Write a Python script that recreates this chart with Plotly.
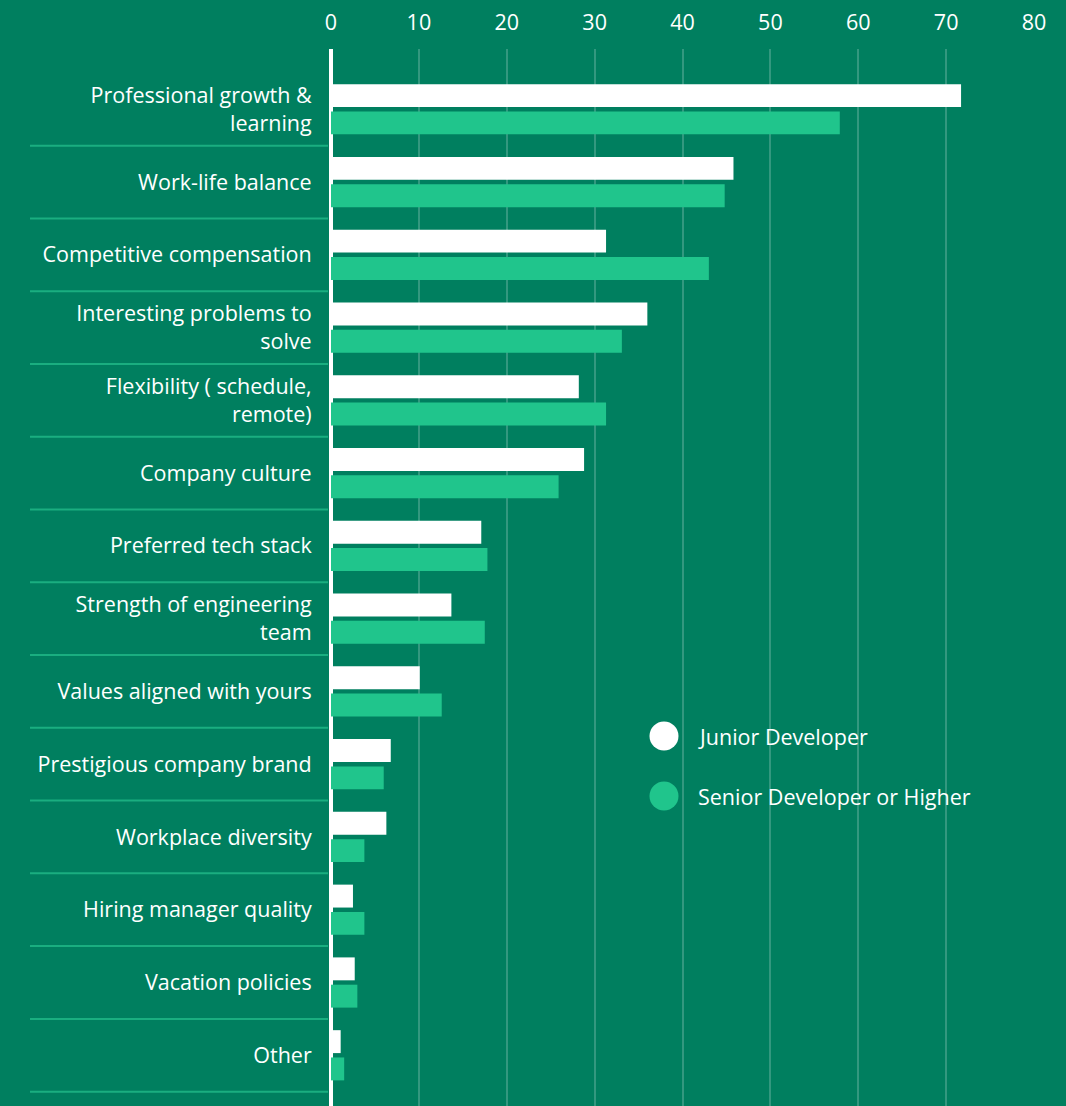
import plotly.graph_objects as go

categories = [
    "Professional growth &<br>learning",
    "Work-life balance",
    "Competitive compensation",
    "Interesting problems to<br>solve",
    "Flexibility ( schedule,<br>remote)",
    "Company culture",
    "Preferred tech stack",
    "Strength of engineering<br>team",
    "Values aligned with yours",
    "Prestigious company brand",
    "Workplace diversity",
    "Hiring manager quality",
    "Vacation policies",
    "Other",
]
series_names = ["Junior Developer", "Senior Developer or Higher"]
junior = [71.7, 45.8, 31.3, 36.0, 28.2, 28.8, 17.1, 13.7, 10.1, 6.8, 6.3, 2.5, 2.7, 1.1]
senior = [57.9, 44.8, 43.0, 33.1, 31.3, 25.9, 17.8, 17.5, 12.6, 6.0, 3.8, 3.8, 3.0, 1.5]
x_ticks = [0, 10, 20, 30, 40, 50, 60, 70, 80]

BG = "#007F5F"
WHITE = "#FFFFFF"
LIGHT = "#20C58C"
SEP = "#1AAE80"
FONT = "Open Sans"
FS = 21.5

W, H = 1066, 1106
ML, MR, MT, MB = 331, 32, 49, 0
PW = W - ML - MR
PH = H - MT - MB

def px_x(px):
    return (px - ML) / PW

def px_y(py):
    return 1 - (py - MT) / PH

fig = go.Figure()
fig.add_trace(go.Bar(y=categories, x=junior, orientation="h", name=series_names[0],
                     marker=dict(color=WHITE, line=dict(width=0)), showlegend=False))
fig.add_trace(go.Bar(y=categories, x=senior, orientation="h", name=series_names[1],
                     marker=dict(color=LIGHT, line=dict(width=0)), showlegend=False))

shapes = []
# row separators on the label side
for i in range(len(categories)):
    shapes.append(dict(type="line", xref="paper", yref="y",
                       x0=px_x(30), x1=px_x(328), y0=i + 0.5, y1=i + 0.5,
                       line=dict(color=SEP, width=2), layer="above"))

# custom legend
annotations = []
legend_colors = [WHITE, LIGHT]
legend_y = [736, 796]
r = 14.5
for name, col, ly in zip(series_names, legend_colors, legend_y):
    shapes.append(dict(type="circle", xref="paper", yref="paper",
                       x0=px_x(664 - r), x1=px_x(664 + r),
                       y0=px_y(ly + r), y1=px_y(ly - r),
                       fillcolor=col, line=dict(width=0)))
    annotations.append(dict(xref="paper", yref="paper", x=px_x(696), y=px_y(ly),
                            xanchor="left", yanchor="middle", text=name, showarrow=False,
                            font=dict(family=FONT, size=FS, color=WHITE)))

fig.update_layout(
    width=W, height=H,
    margin=dict(l=ML, r=MR, t=MT, b=MB, pad=0),
    paper_bgcolor=BG, plot_bgcolor=BG,
    barmode="group", bargap=0.25, bargroupgap=0.16,
    font=dict(family=FONT, size=FS, color=WHITE),
    shapes=shapes, annotations=annotations,
    showlegend=False,
    xaxis=dict(side="top", range=[0, 80], tickvals=x_ticks,
               showgrid=True, gridcolor="rgba(255,255,255,0.2)", gridwidth=2,
               zeroline=True, zerolinecolor=WHITE, zerolinewidth=4,
               ticks="outside", ticklen=9, tickcolor="rgba(0,0,0,0)",
               tickfont=dict(family=FONT, size=FS, color=WHITE),
               showline=False, fixedrange=True),
    yaxis=dict(type="category", range=[13.697, -0.828],
               showgrid=False, zeroline=False, showline=False,
               ticks="outside", ticklen=14, tickcolor="rgba(0,0,0,0)",
               tickfont=dict(family=FONT, size=FS, color=WHITE), fixedrange=True),
)

fig.write_html("out.html", config={"displayModeBar": False},
               post_script="document.body.style.margin='0';document.body.style.background='%s';" % BG)
